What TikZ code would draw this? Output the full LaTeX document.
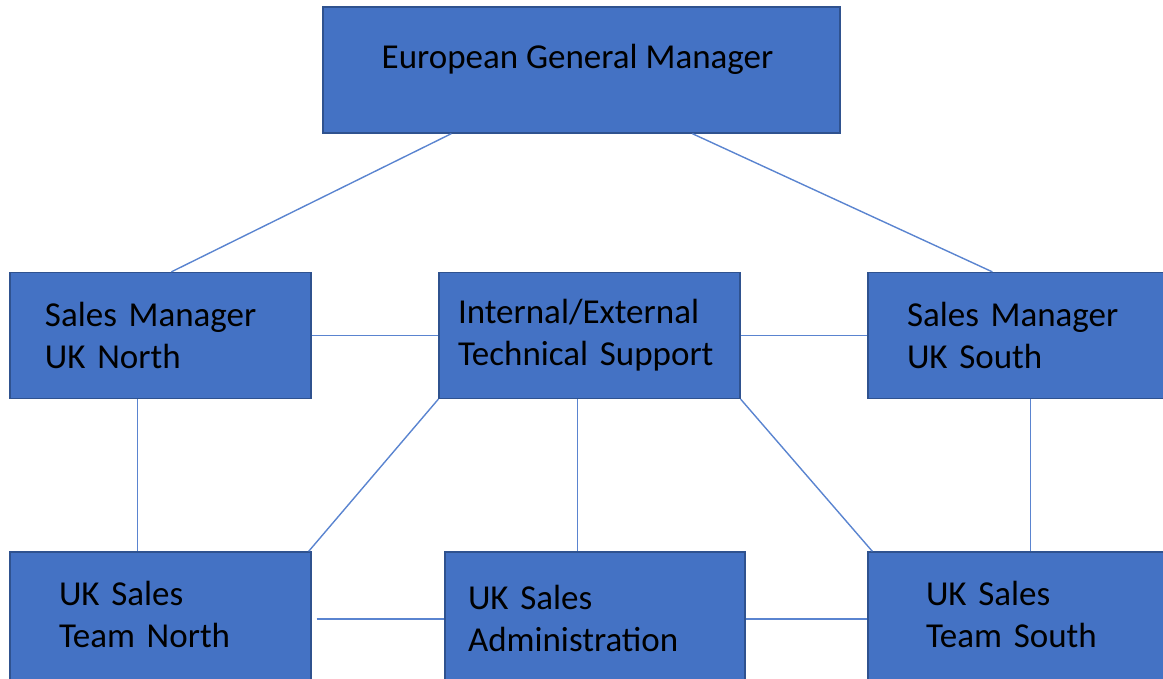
\documentclass[tikz,border=0pt]{standalone}
\usepackage{fontspec}
\setmainfont{Carlito}
\definecolor{boxfill}{HTML}{4472C4}
\definecolor{boxline}{HTML}{2F528F}
\definecolor{linkline}{HTML}{5A84D0}
\begin{document}
\begin{tikzpicture}[x=1pt,y=-1pt,
  orgbox/.style={draw=boxline, line width=1.3pt, fill=boxfill, rectangle,
    inner sep=0pt, minimum height=126pt, align=left, text=black,
    font=\fontsize{35}{42}\selectfont},
  boxtext/.style={inner sep=0pt, text=black, align=left, font=\fontsize{35}{42}\selectfont},
  link/.style={draw=linkline, line width=1.4pt}]
\useasboundingbox (0,0) rectangle (1163,678);

% top level
\node[orgbox, minimum width=517pt] (egm) at (581.5,70) {};
\node[boxtext] (egmtext) at ([xshift=-4pt,yshift=11pt]egm.center) {European General Manager};

% middle row
\node[orgbox, minimum width=301pt, text width=231pt] (smn) at (160.5,335.5) {Sales Manager\\UK North};
\node[orgbox, minimum width=301pt, text width=263pt] (tech) at (589.5,335.5) {Internal/External\\Technical Support};
\node[orgbox, minimum width=296pt, text width=218pt] (sms) at (1016,335.5) {Sales Manager\\UK South};

% bottom row (boxes run past the lower edge)
\node[orgbox, minimum width=301pt, minimum height=130pt] (tsn) at (160.5,617) {};
\node[orgbox, minimum width=300pt, minimum height=130pt] (adm) at (595,617) {};
\node[orgbox, minimum width=296pt, minimum height=130pt] (tss) at (1016,617) {};
\node[boxtext, text width=203pt] (tsntext) at ([yshift=3pt]tsn.center) {UK Sales\\Team North};
\node[boxtext, text width=254pt] (admtext) at ([yshift=-1.5pt]adm.center) {UK Sales\\Administration};
\node[boxtext, text width=180pt] (tsstext) at ([yshift=3pt]tss.center) {UK Sales\\Team South};

% reporting lines
\draw[link] ([xshift=129pt]egm.south west) -- ([xshift=162pt]smn.north west);
\draw[link] ([xshift=370pt]egm.south west) -- ([xshift=125pt]sms.north west);

\draw[link] (smn.east) -- (tech.west);
\draw[link] (tech.east) -- (sms.west);

\draw[link] ([xshift=128pt]smn.south west) -- ([xshift=128pt]tsn.north west);
\draw[link] ([xshift=139pt]tech.south west) -- ([xshift=133pt]adm.north west);
\draw[link] ([xshift=163pt]sms.south west) -- ([xshift=163pt]tss.north west);

\draw[link] (tech.south west) -- ([xshift=-3pt]tsn.north east);
\draw[link] (tech.south east) -- ([xshift=5pt]tss.north west);

\draw[link] ([xshift=5pt,yshift=-2pt]tsn.east) -- ([yshift=-2pt]adm.west);
\draw[link] ([yshift=-2pt]adm.east) -- ([yshift=-2pt]tss.west);
\end{tikzpicture}
\end{document}
